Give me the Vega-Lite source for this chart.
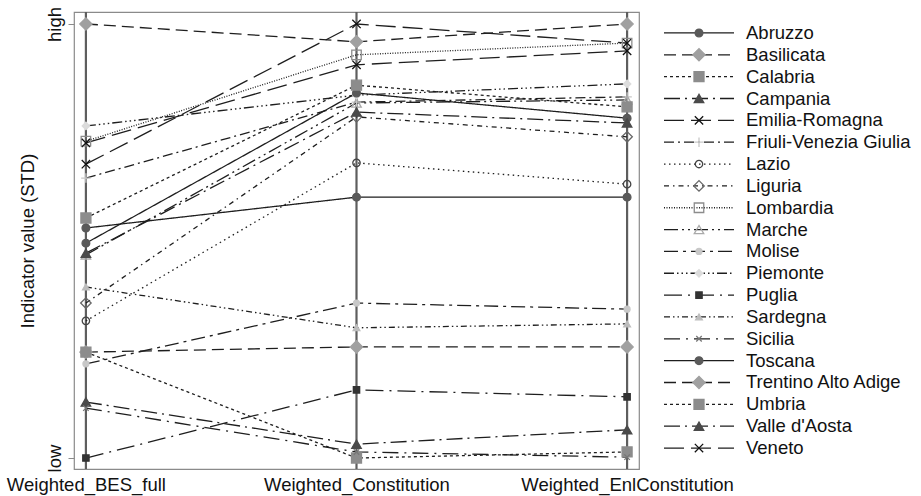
{
  "$schema": "https://vega.github.io/schema/vega-lite/v6.json",
  "background": "white",
  "padding": {"left": 5, "top": 5, "right": 5, "bottom": 5},
  "config": {
    "font": "Liberation Sans",
    "axis": {"labelFont": "Liberation Sans", "titleFont": "Liberation Sans", "labelFontSize": 18.5, "titleFontSize": 18.5, "titleFontWeight": "normal", "labelColor": "#111", "titleColor": "#111", "labelLimit": 0}
  },
  "datasets": {
    "regions": [
      {"Region": "Abruzzo", "Weighted_BES_full": 0.530, "Weighted_Constitution": 0.601, "Weighted_EnlConstitution": 0.601},
      {"Region": "Basilicata", "Weighted_BES_full": 0.244, "Weighted_Constitution": 0.256, "Weighted_EnlConstitution": 0.256},
      {"Region": "Calabria", "Weighted_BES_full": 0.244, "Weighted_Constitution": 0.0, "Weighted_EnlConstitution": 0.014},
      {"Region": "Campania", "Weighted_BES_full": 0.129, "Weighted_Constitution": 0.032, "Weighted_EnlConstitution": 0.065},
      {"Region": "Emilia-Romagna", "Weighted_BES_full": 0.677, "Weighted_Constitution": 1.0, "Weighted_EnlConstitution": 0.956},
      {"Region": "Friuli-Venezia Giulia", "Weighted_BES_full": 0.645, "Weighted_Constitution": 0.820, "Weighted_EnlConstitution": 0.832},
      {"Region": "Lazio", "Weighted_BES_full": 0.316, "Weighted_Constitution": 0.680, "Weighted_EnlConstitution": 0.631},
      {"Region": "Liguria", "Weighted_BES_full": 0.357, "Weighted_Constitution": 0.786, "Weighted_EnlConstitution": 0.740},
      {"Region": "Lombardia", "Weighted_BES_full": 0.730, "Weighted_Constitution": 0.929, "Weighted_EnlConstitution": 0.956},
      {"Region": "Marche", "Weighted_BES_full": 0.468, "Weighted_Constitution": 0.818, "Weighted_EnlConstitution": 0.825},
      {"Region": "Molise", "Weighted_BES_full": 0.217, "Weighted_Constitution": 0.357, "Weighted_EnlConstitution": 0.343},
      {"Region": "Piemonte", "Weighted_BES_full": 0.765, "Weighted_Constitution": 0.836, "Weighted_EnlConstitution": 0.862},
      {"Region": "Puglia", "Weighted_BES_full": 0.0, "Weighted_Constitution": 0.157, "Weighted_EnlConstitution": 0.141},
      {"Region": "Sardegna", "Weighted_BES_full": 0.394, "Weighted_Constitution": 0.300, "Weighted_EnlConstitution": 0.309},
      {"Region": "Sicilia", "Weighted_BES_full": 0.115, "Weighted_Constitution": 0.014, "Weighted_EnlConstitution": 0.002},
      {"Region": "Toscana", "Weighted_BES_full": 0.495, "Weighted_Constitution": 0.841, "Weighted_EnlConstitution": 0.783},
      {"Region": "Trentino Alto Adige", "Weighted_BES_full": 1.0, "Weighted_Constitution": 0.959, "Weighted_EnlConstitution": 1.0},
      {"Region": "Umbria", "Weighted_BES_full": 0.553, "Weighted_Constitution": 0.859, "Weighted_EnlConstitution": 0.809},
      {"Region": "Valle d'Aosta", "Weighted_BES_full": 0.472, "Weighted_Constitution": 0.797, "Weighted_EnlConstitution": 0.772},
      {"Region": "Veneto", "Weighted_BES_full": 0.726, "Weighted_Constitution": 0.906, "Weighted_EnlConstitution": 0.938}
    ]
  },
  "bounds": "flush",
  "spacing": 25,
  "resolve": {"scale": {"size": "independent", "shape": "independent", "fill": "independent", "stroke": "independent", "strokeDash": "independent"}},
  "hconcat": [
    {
      "width": 565,
      "height": 457,
      "view": {"stroke": "#8a8a8a", "strokeWidth": 1.2},
      "data": {"name": "regions"},
      "transform": [{"fold": ["Weighted_BES_full", "Weighted_Constitution", "Weighted_EnlConstitution"], "as": ["Dimension", "Value"]}],
      "encoding": {
        "x": {"field": "Dimension", "type": "nominal", "sort": ["Weighted_BES_full", "Weighted_Constitution", "Weighted_EnlConstitution"],
          "scale": {"type": "point", "padding": 0.044},
          "axis": {"title": null, "labelAngle": 0, "ticks": false, "domain": false, "labelPadding": 6, "labelOverlap": false, "labelLimit": 0}}
      },
      "layer": [
        {
          "transform": [{"aggregate": [{"op": "count", "as": "n"}], "groupby": ["Dimension"]}],
          "mark": {"type": "rule", "color": "#5e5e5e", "strokeWidth": 2.2},
          "encoding": {}
        },
        {
          "mark": {"type": "line", "color": "#1e1e1e", "strokeWidth": 1.3},
          "encoding": {
            "y": {"field": "Value", "type": "quantitative",
              "scale": {"domain": [-0.0253, 1.0276], "nice": false, "zero": false},
              "axis": {"title": "Indicator value (STD)", "values": [0, 1], "labelExpr": "datum.value >= 0.5 ? 'high' : 'low'", "grid": false, "domain": false, "tickColor": "#8a8a8a", "tickSize": 6, "labelAngle": 270, "labelPadding": 4, "titlePadding": 8}},
            "strokeDash": {"field": "Region", "type": "nominal", "legend": null,
              "scale": {"domain": ["Abruzzo","Basilicata","Calabria","Campania","Emilia-Romagna","Friuli-Venezia Giulia","Lazio","Liguria","Lombardia","Marche","Molise","Piemonte","Puglia","Sardegna","Sicilia","Toscana","Trentino Alto Adige","Umbria","Valle d'Aosta","Veneto"],
                "range": [[1,0],[12,6],[3,3],[16,5,2,5],[20,7],[10,4,2,4],[1.5,3.5],[5,4,1.5,4],[1,1.5],[14,4,2,4,2,4],[14,5,3,5],[10,3,1.5,3,1.5,3,1.5,3],[18,6,2,6],[6,3,1.5,3,1.5,3],[16,6,2,6],[1,0],[12,6],[3,3],[16,5,2,5],[20,7]]}}
          }
        },
        {
          "mark": {"type": "point", "filled": true, "opacity": 1, "strokeWidth": 1.3},
          "encoding": {
            "y": {"field": "Value", "type": "quantitative"},
            "shape": {"field": "Region", "type": "nominal", "legend": null,
              "scale": {"domain": ["Abruzzo","Basilicata","Calabria","Campania","Emilia-Romagna","Friuli-Venezia Giulia","Lazio","Liguria","Lombardia","Marche","Molise","Piemonte","Puglia","Sardegna","Sicilia","Toscana","Trentino Alto Adige","Umbria","Valle d'Aosta","Veneto"],
                "range": ["circle","diamond","square","triangle-up","M-1,-1L1,1M-1,1L1,-1","M-1,0L1,0M0,-1L0,1","circle","diamond","square","triangle-up","circle","diamond","square","triangle-up","M-1,-1L1,1M-1,1L1,-1","circle","diamond","square","triangle-up","M-1,-1L1,1M-1,1L1,-1"]}},
            "fill": {"field": "Region", "type": "nominal", "legend": null,
              "scale": {"domain": ["Abruzzo","Basilicata","Calabria","Campania","Emilia-Romagna","Friuli-Venezia Giulia","Lazio","Liguria","Lombardia","Marche","Molise","Piemonte","Puglia","Sardegna","Sicilia","Toscana","Trentino Alto Adige","Umbria","Valle d'Aosta","Veneto"],
                "range": ["#5a5a5a","#a0a0a0","#8c8c8c","#4a4a4a","transparent","transparent","transparent","transparent","transparent","transparent","#c8c8c8","#dcdcdc","#333333","#bdbdbd","transparent","#5a5a5a","#a0a0a0","#8c8c8c","#4a4a4a","transparent"]}},
            "stroke": {"field": "Region", "type": "nominal", "legend": null,
              "scale": {"domain": ["Abruzzo","Basilicata","Calabria","Campania","Emilia-Romagna","Friuli-Venezia Giulia","Lazio","Liguria","Lombardia","Marche","Molise","Piemonte","Puglia","Sardegna","Sicilia","Toscana","Trentino Alto Adige","Umbria","Valle d'Aosta","Veneto"],
                "range": ["#5a5a5a","#a0a0a0","#8c8c8c","#4a4a4a","#111111","#c8c8c8","#444444","#666666","#8c8c8c","#aaaaaa","#c8c8c8","#dcdcdc","#333333","#bdbdbd","#777777","#5a5a5a","#a0a0a0","#8c8c8c","#4a4a4a","#111111"]}},
            "size": {"field": "Region", "type": "nominal", "legend": null,
              "scale": {"type": "ordinal", "domain": ["Abruzzo","Basilicata","Calabria","Campania","Emilia-Romagna","Friuli-Venezia Giulia","Lazio","Liguria","Lombardia","Marche","Molise","Piemonte","Puglia","Sardegna","Sicilia","Toscana","Trentino Alto Adige","Umbria","Valle d'Aosta","Veneto"],
                "range": [60,150,100,90,70,90,55,110,90,90,35,55,40,45,30,60,150,100,90,70]}}
          }
        }
      ]
    },
    {
      "width": 70,
      "height": 457,
      "view": {"stroke": null},
      "data": {"name": "regions"},
      "transform": [{"fold": ["Weighted_BES_full", "Weighted_Constitution", "Weighted_EnlConstitution"], "as": ["Dimension", "Value"]}],
      "encoding": {
        "x": {"field": "Dimension", "type": "nominal", "sort": ["Weighted_BES_full", "Weighted_Constitution", "Weighted_EnlConstitution"], "scale": {"type": "point", "padding": 0}, "axis": null},
        "y": {"field": "Region", "type": "nominal", "sort": ["Abruzzo","Basilicata","Calabria","Campania","Emilia-Romagna","Friuli-Venezia Giulia","Lazio","Liguria","Lombardia","Marche","Molise","Piemonte","Puglia","Sardegna","Sicilia","Toscana","Trentino Alto Adige","Umbria","Valle d'Aosta","Veneto"], "scale": {"type": "point", "padding": 0.96}, "axis": null}
      },
      "layer": [
        {
          "mark": {"type": "line", "color": "#1e1e1e", "strokeWidth": 1.3},
          "encoding": {"strokeDash": {"field": "Region", "type": "nominal", "legend": null,
              "scale": {"domain": ["Abruzzo","Basilicata","Calabria","Campania","Emilia-Romagna","Friuli-Venezia Giulia","Lazio","Liguria","Lombardia","Marche","Molise","Piemonte","Puglia","Sardegna","Sicilia","Toscana","Trentino Alto Adige","Umbria","Valle d'Aosta","Veneto"],
                "range": [[1,0],[12,6],[3,3],[16,5,2,5],[20,7],[10,4,2,4],[1.5,3.5],[5,4,1.5,4],[1,1.5],[14,4,2,4,2,4],[14,5,3,5],[10,3,1.5,3,1.5,3,1.5,3],[18,6,2,6],[6,3,1.5,3,1.5,3],[16,6,2,6],[1,0],[12,6],[3,3],[16,5,2,5],[20,7]]}}}
        },
        {
          "transform": [{"filter": "datum.Dimension == 'Weighted_Constitution'"}],
          "mark": {"type": "point", "filled": true, "opacity": 1, "strokeWidth": 1.3},
          "encoding": {
            "shape": {"field": "Region", "type": "nominal", "legend": null,
              "scale": {"domain": ["Abruzzo","Basilicata","Calabria","Campania","Emilia-Romagna","Friuli-Venezia Giulia","Lazio","Liguria","Lombardia","Marche","Molise","Piemonte","Puglia","Sardegna","Sicilia","Toscana","Trentino Alto Adige","Umbria","Valle d'Aosta","Veneto"],
                "range": ["circle","diamond","square","triangle-up","M-1,-1L1,1M-1,1L1,-1","M-1,0L1,0M0,-1L0,1","circle","diamond","square","triangle-up","circle","diamond","square","triangle-up","M-1,-1L1,1M-1,1L1,-1","circle","diamond","square","triangle-up","M-1,-1L1,1M-1,1L1,-1"]}},
            "fill": {"field": "Region", "type": "nominal", "legend": null,
              "scale": {"domain": ["Abruzzo","Basilicata","Calabria","Campania","Emilia-Romagna","Friuli-Venezia Giulia","Lazio","Liguria","Lombardia","Marche","Molise","Piemonte","Puglia","Sardegna","Sicilia","Toscana","Trentino Alto Adige","Umbria","Valle d'Aosta","Veneto"],
                "range": ["#5a5a5a","#a0a0a0","#8c8c8c","#4a4a4a","transparent","transparent","transparent","transparent","transparent","transparent","#c8c8c8","#dcdcdc","#333333","#bdbdbd","transparent","#5a5a5a","#a0a0a0","#8c8c8c","#4a4a4a","transparent"]}},
            "stroke": {"field": "Region", "type": "nominal", "legend": null,
              "scale": {"domain": ["Abruzzo","Basilicata","Calabria","Campania","Emilia-Romagna","Friuli-Venezia Giulia","Lazio","Liguria","Lombardia","Marche","Molise","Piemonte","Puglia","Sardegna","Sicilia","Toscana","Trentino Alto Adige","Umbria","Valle d'Aosta","Veneto"],
                "range": ["#5a5a5a","#a0a0a0","#8c8c8c","#4a4a4a","#111111","#c8c8c8","#444444","#666666","#8c8c8c","#aaaaaa","#c8c8c8","#dcdcdc","#333333","#bdbdbd","#777777","#5a5a5a","#a0a0a0","#8c8c8c","#4a4a4a","#111111"]}},
            "size": {"field": "Region", "type": "nominal", "legend": null,
              "scale": {"type": "ordinal", "domain": ["Abruzzo","Basilicata","Calabria","Campania","Emilia-Romagna","Friuli-Venezia Giulia","Lazio","Liguria","Lombardia","Marche","Molise","Piemonte","Puglia","Sardegna","Sicilia","Toscana","Trentino Alto Adige","Umbria","Valle d'Aosta","Veneto"],
                "range": [60,150,100,90,70,90,55,110,90,90,35,55,40,45,30,60,150,100,90,70]}}
          }
        },
        {
          "transform": [{"filter": "datum.Dimension == 'Weighted_EnlConstitution'"}],
          "mark": {"type": "text", "align": "left", "baseline": "middle", "dx": 12, "fontSize": 18.5, "font": "Liberation Sans", "color": "#111"},
          "encoding": {"text": {"field": "Region", "type": "nominal"}}
        }
      ]
    }
  ]
}
